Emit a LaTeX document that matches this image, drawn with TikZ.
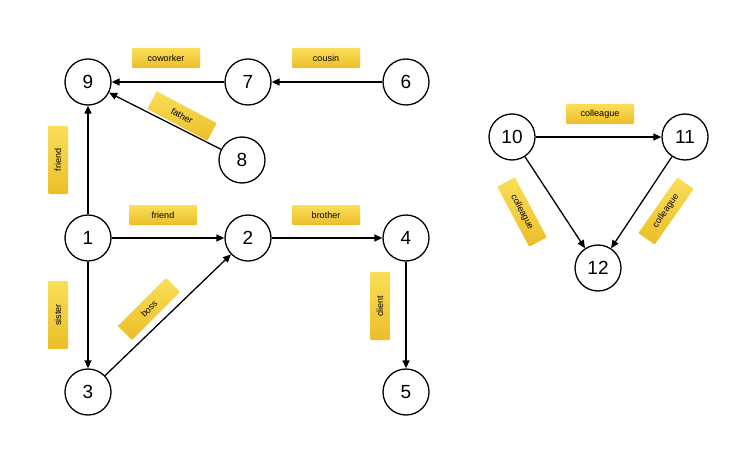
\documentclass[tikz,border=0pt]{standalone}
\usepackage{fontspec}
\setmainfont{Liberation Sans}
\usetikzlibrary{arrows.meta}
\definecolor{goldA}{RGB}{250,222,90}
\definecolor{goldB}{RGB}{236,190,40}
\begin{document}
\begin{tikzpicture}[x=1pt,y=-1pt,
  n/.style={circle,draw,line width=1.3pt,minimum size=46pt,inner sep=0pt,font=\fontsize{19}{19}\selectfont},
  e/.style={-{Triangle[length=8pt,width=7pt]},line width=1.3pt},
  lab/.style={rounded corners=1pt,top color=goldA,bottom color=goldB,
    minimum width=68pt,minimum height=20pt,inner sep=2pt,font=\fontsize{9}{9}\selectfont}]
\useasboundingbox (0,0) rectangle (754,449);
\node[n] (9) at (88,82) {9};
\node[n] (7) at (248,82) {7};
\node[n] (6) at (406,82) {6};
\node[n] (8) at (242,160) {8};
\node[n] (1) at (88,238) {1};
\node[n] (2) at (248,238) {2};
\node[n] (4) at (406,238) {4};
\node[n] (3) at (88,392) {3};
\node[n] (5) at (406,392) {5};
\node[n] (10) at (512,137) {10};
\node[n] (11) at (685,137) {11};
\node[n] (12) at (598,268) {12};
\draw[e] (1) -- (9);
\draw[e] (1) -- (2);
\draw[e] (2) -- (4);
\draw[e] (4) -- (5);
\draw[e] (1) -- (3);
\draw[e] (3) -- (2);
\draw[e] (7) -- (9);
\draw[e] (6) -- (7);
\draw[e] (8) -- (9);
\draw[e] (10) -- (11);
\draw[e] (10) -- (12);
\draw[e] (11) -- (12);
\node[lab] (lcow) at (166,58) {coworker};
\node[lab] (lcou) at (326,58) {cousin};
\node[lab,rotate=-28] (lfat) at (182,116) {father};
\node[lab,rotate=90] (lfr1) at (58,160) {friend};
\node[lab] (lfr2) at (163,215) {friend};
\node[lab] (lbro) at (326,215) {brother};
\node[lab,rotate=90] (lsis) at (58,315) {sister};
\node[lab,rotate=45] (lbos) at (149,309) {boss};
\node[lab,rotate=90] (lcli) at (380,306) {client};
\node[lab] (lc1) at (600,114) {colleague};
\node[lab,rotate=-62] (lc2) at (522,212) {colleague};
\node[lab,rotate=55] (lc3) at (666,211) {colleague};
\end{tikzpicture}
\end{document}
